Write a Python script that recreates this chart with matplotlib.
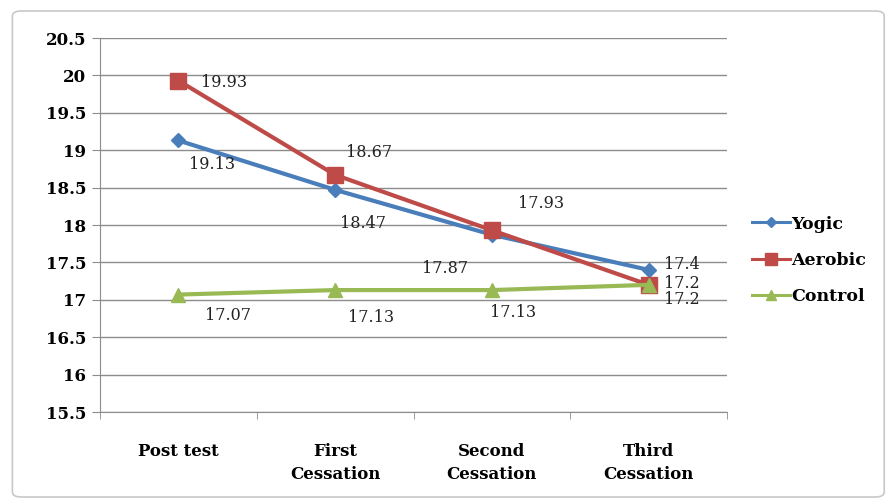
import numpy as np
import matplotlib
matplotlib.use("Agg")
import matplotlib.pyplot as plt
from matplotlib.patches import FancyBboxPatch

# data
categories = ["Post test", "First\nCessation", "Second\nCessation", "Third\nCessation"]
yogic = [19.13, 18.47, 17.87, 17.4]
aerobic = [19.93, 18.67, 17.93, 17.2]
control = [17.07, 17.13, 17.13, 17.2]
y_ticks = [15.5, 16, 16.5, 17, 17.5, 18, 18.5, 19, 19.5, 20, 20.5]

# label offsets in pixels (dx, dy)
yogic_off = [(34, -24), (28, -34), (-47, -34), (33, 5)]
aerobic_off = [(46, -2), (34, 22), (49, 27), (33, 1)]
control_off = [(50, -21), (36, -27), (21, -22), (33, -15)]

plt.rcParams['font.family'] = ['DejaVu Serif']

fig = plt.figure(figsize=(8.86, 5.0), dpi=100)
fig.patches.append(FancyBboxPatch((0.014, 0.006), 0.984, 0.972, boxstyle="round,pad=0,rounding_size=0.01",
                                  transform=fig.transFigure, fill=False, edgecolor="#c8c8c8", lw=1.2))
ax = fig.add_axes([100 / 886, 1 - 412 / 500, 627 / 886, 374 / 500])

x = np.arange(len(categories))
series = [
    ("Yogic", yogic, "#4a7ebb", "D", 7, yogic_off),
    ("Aerobic", aerobic, "#be4b48", "s", 11, aerobic_off),
    ("Control", control, "#98b954", "^", 10, control_off),
]
for name, vals, col, mk, ms, offs in series:
    ax.plot(x, vals, color=col, lw=3, marker=mk, ms=ms, label=name)
    for xi, v, o in zip(x, vals, offs):
        ax.annotate(f"{v:g}", (xi, v), xytext=o, textcoords="offset pixels",
                    ha="center", va="center", fontsize=11.5, color="#222222")

ax.set_xlim(-0.5, 3.5)
ax.set_ylim(15.5, 20.5)
ax.set_yticks(y_ticks)
ax.set_yticklabels([f"{t:g}" for t in y_ticks], fontweight="bold", fontsize=12)
ax.yaxis.grid(True, color="#8c8c8c", lw=1)
ax.set_axisbelow(True)
ax.set_xticks(x)
ax.set_xticklabels(categories, fontweight="bold", fontsize=12, linespacing=1.5)
ax.tick_params(axis="x", length=0, pad=22)
ax.set_xticks(np.arange(-0.5, 4, 1), minor=True)
ax.tick_params(axis="x", which="minor", length=5, color="#8c8c8c")
ax.tick_params(axis="y", length=6, color="#8c8c8c", pad=4)
for s in ["top", "right"]:
    ax.spines[s].set_visible(False)
for s in ["left", "bottom"]:
    ax.spines[s].set_color("#8c8c8c")

leg = ax.legend(loc="center left", bbox_to_anchor=(1.04, 0.406), frameon=False,
                prop={"weight": "bold", "size": 12.5}, handlelength=2.2, handletextpad=0.05,
                labelspacing=1.1, markerscale=0.75, borderaxespad=0, borderpad=0)
for ln in leg.get_lines():
    ln.set_linewidth(2.2)

fig.savefig("out.png", dpi=100)
